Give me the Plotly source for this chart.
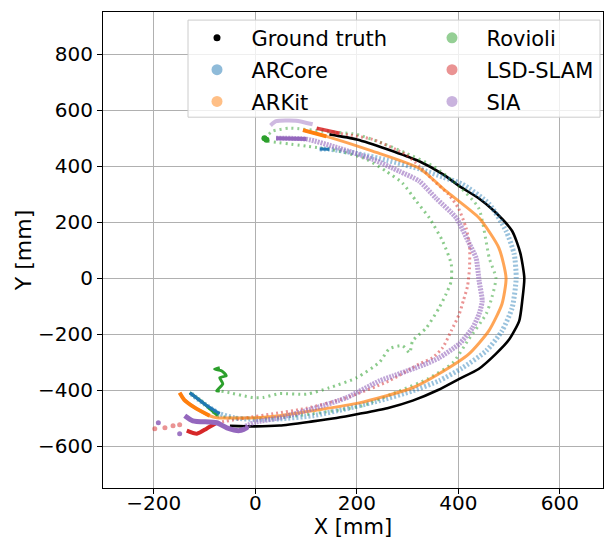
import plotly.graph_objects as go

# ---------------- data (mm) ----------------
GT_X = [146, 200, 260, 323, 370, 402, 440, 470, 506, 522, 530, 526, 520, 500, 474, 440, 402, 360, 310, 260, 205, 160, 113, 48, 0, -50]
GT_Y = [513, 495, 460, 417, 370, 328, 285, 240, 168, 90, 0, -80, -153, -220, -271, -325, -360, -400, -438, -465, -485, -500, -512, -527, -530, -528]

ARCORE_X = [127, 146, 200, 260, 323, 370, 408, 461, 494, 510, 514, 506, 486, 455, 408, 362, 310, 245, 179, 113, 48, 0, -40, -70, -100, -129]
ARCORE_Y = [461, 460, 445, 420, 390, 360, 335, 264, 168, 86, 0, -107, -189, -260, -321, -367, -403, -438, -467, -492, -503, -505, -500, -485, -450, -410]
ARCORE_END_X = [-70, -100, -129]
ARCORE_END_Y = [-485, -450, -410]
ARCORE_START_X = [127, 146]
ARCORE_START_Y = [461, 460]

ARKIT_X = [94, 140, 231, 323, 376, 441, 480, 494, 486, 460, 421, 362, 310, 205, 113, 48, 2, -76, -90, -120, -140, -149]
ARKIT_Y = [528, 506, 453, 392, 310, 214, 107, 0, -93, -189, -271, -342, -392, -446, -474, -492, -499, -499, -492, -462, -435, -410]
ARKIT_START_X = [94, 140]
ARKIT_START_Y = [528, 506]
ARKIT_END_X = [-90, -120, -140, -149]
ARKIT_END_Y = [-492, -462, -435, -410]

ROV_OUT_X = [18, 34, 68, 133, 199, 251, 297, 350, 400, 440, 461, 474, 466, 455, 420, 389, 340, 284, 211, 113, 40, -20, -74, -100, -129]
ROV_OUT_Y = [499, 524, 535, 524, 513, 481, 446, 400, 330, 250, 71, 0, -70, -128, -220, -303, -360, -403, -456, -485, -500, -500, -492, -450, -410]
ROV_OUT_END_X = [-74, -100, -129]
ROV_OUT_END_Y = [-492, -450, -410]
ROV_IN_X = [24, 101, 166, 219, 258, 290, 317, 343, 369, 386, 386, 376, 362, 337, 310, 304, 290, 264, 245, 200, 146, 101, 48, 15, -5, -25, -50, -70]
ROV_IN_Y = [488, 471, 453, 424, 381, 339, 275, 214, 132, 50, -11, -57, -107, -178, -225, -267, -242, -253, -300, -356, -392, -415, -413, -427, -427, -420, -410, -403]
ROV_IN_END_X = [-70, -76, -64, -70, -57, -66, -80, -70]
ROV_IN_END_Y = [-403, -403, -378, -356, -349, -332, -325, -320]
ROV_TOP_X = [18, 22]
ROV_TOP_Y = [499, 494]

LSD_X = [121, 166, 231, 297, 323, 350, 380, 400, 415, 422, 422, 418, 410, 402, 386, 369, 349, 323, 264, 179, 101, 35, -20, -76]
LSD_Y = [535, 517, 495, 440, 400, 350, 300, 250, 180, 120, 36, -30, -80, -128, -189, -249, -285, -307, -367, -428, -465, -485, -500, -517]
LSD_START_X = [121, 166]
LSD_START_Y = [535, 517]
LSD_END_X = [-76, -96, -115, -135]
LSD_END_Y = [-517, -538, -556, -545]
LSD_STRAY_X = [-149, -162, -178, -198]
LSD_STRAY_Y = [-524, -528, -535, -538]

SIA_X = [41, 101, 166, 231, 284, 323, 356, 396, 422, 435, 441, 447, 441, 428, 402, 362, 336, 271, 245, 179, 113, 48, 0, -20]
SIA_Y = [499, 496, 463, 424, 381, 346, 285, 214, 121, 71, -11, -82, -128, -178, -235, -285, -307, -350, -367, -428, -467, -499, -515, -530]
SIA_START_X = [41, 101]
SIA_START_Y = [499, 496]
SIA_TOP_X = [30, 41, 80, 113]
SIA_TOP_Y = [545, 560, 562, 549]
SIA_END_X = [-20, -17, -31, -56, -76, -123, -139]
SIA_END_Y = [-530, -535, -545, -535, -517, -510, -492]
SIA_STRAY_X = [-191, -149]
SIA_STRAY_Y = [-517, -556]

X_TICKS = [-200, 0, 200, 400, 600]
Y_TICKS = [-600, -400, -200, 0, 200, 400, 600, 800]

COLORS = {
    "ARCore": (31, 119, 180),
    "ARKit": (255, 127, 14),
    "Rovioli": (44, 160, 44),
    "LSD-SLAM": (214, 39, 40),
    "SIA": (148, 103, 189),
}

def rgba(c, a):
    return "rgba(%d,%d,%d,%.2f)" % (c[0], c[1], c[2], a)

fig = go.Figure()

def path(x, y, c, a=0.5, width=3, dash="2px,2px"):
    fig.add_trace(go.Scatter(
        x=x, y=y, mode="lines",
        line=dict(color=rgba(c, a), width=width, dash=dash, shape="spline", smoothing=0.6),
        showlegend=False, hoverinfo="skip"))

def dots(x, y, c, a=0.5, size=5):
    fig.add_trace(go.Scatter(
        x=x, y=y, mode="markers",
        marker=dict(color=rgba(c, a), size=size),
        showlegend=False, hoverinfo="skip"))

# ground truth
fig.add_trace(go.Scatter(x=GT_X, y=GT_Y, mode="lines",
                         line=dict(color="black", width=2.6, shape="spline", smoothing=0.6),
                         showlegend=False, hoverinfo="skip"))

# Rovioli
path(ROV_IN_X, ROV_IN_Y, COLORS["Rovioli"], 0.55, 3, "2px,4px")
path(ROV_OUT_X, ROV_OUT_Y, COLORS["Rovioli"], 0.5, 3, "2px,4px")
path(ROV_IN_END_X, ROV_IN_END_Y, COLORS["Rovioli"], 1.0, 3, None)
path(ROV_OUT_END_X, ROV_OUT_END_Y, COLORS["Rovioli"], 1.0, 3, None)
dots(ROV_TOP_X, ROV_TOP_Y, COLORS["Rovioli"], 1.0, 6)

# LSD-SLAM
path(LSD_X, LSD_Y, COLORS["LSD-SLAM"], 0.5, 3, "2px,3px")
dots(LSD_STRAY_X, LSD_STRAY_Y, COLORS["LSD-SLAM"], 0.5, 5)
path(LSD_START_X, LSD_START_Y, COLORS["LSD-SLAM"], 0.85, 3.5, None)
path(LSD_END_X, LSD_END_Y, COLORS["LSD-SLAM"], 1.0, 4, None)

# ARCore
path(ARCORE_X, ARCORE_Y, COLORS["ARCore"], 0.45, 5, "2px,2px")
path(ARCORE_START_X, ARCORE_START_Y, COLORS["ARCore"], 1.0, 3, None)
path(ARCORE_END_X, ARCORE_END_Y, COLORS["ARCore"], 1.0, 3, None)

# ARKit
path(ARKIT_X, ARKIT_Y, COLORS["ARKit"], 0.7, 3, None)
path(ARKIT_START_X, ARKIT_START_Y, COLORS["ARKit"], 1.0, 4, None)
path(ARKIT_END_X, ARKIT_END_Y, COLORS["ARKit"], 1.0, 4, None)

# SIA
path(SIA_X, SIA_Y, COLORS["SIA"], 0.6, 5, "2px,1px")
path(SIA_TOP_X, SIA_TOP_Y, COLORS["SIA"], 0.45, 4, None)
path(SIA_START_X, SIA_START_Y, COLORS["SIA"], 1.0, 4, None)
path(SIA_END_X, SIA_END_Y, COLORS["SIA"], 1.0, 5, None)
dots(SIA_STRAY_X, SIA_STRAY_Y, COLORS["SIA"], 0.9, 5)

# legend-only entries, two columns = two legends
legend_items = [
    ("Ground truth", "black", 7, "legend"),
    ("ARCore", rgba(COLORS["ARCore"], 0.5), 11, "legend"),
    ("ARKit", rgba(COLORS["ARKit"], 0.5), 11, "legend"),
    ("Rovioli", rgba(COLORS["Rovioli"], 0.5), 11, "legend2"),
    ("LSD-SLAM", rgba(COLORS["LSD-SLAM"], 0.5), 11, "legend2"),
    ("SIA", rgba(COLORS["SIA"], 0.5), 11, "legend2"),
]
for name, col, sz, lg in legend_items:
    fig.add_trace(go.Scatter(x=[None], y=[None], mode="markers", name=name,
                             legend=lg, legendgroup=name,
                             marker=dict(color=col, size=sz)))

FONT = "DejaVu Sans"
axis_common = dict(
    showgrid=True, gridcolor="#b0b0b0", gridwidth=1,
    showline=True, linecolor="black", linewidth=1.2, mirror=True,
    ticks="outside", ticklen=5, tickwidth=1.2, tickcolor="black",
    tickfont=dict(family=FONT, size=20, color="black"),
    zeroline=False, automargin=False,
)

legend_common = dict(
    orientation="v", yanchor="top", xanchor="left", y=0.988,
    bgcolor="rgba(0,0,0,0)", borderwidth=0,
    font=dict(family=FONT, size=21, color="black"),
    itemsizing="trace", itemwidth=59,
    traceorder="grouped", tracegroupgap=1.5,
)

fig.update_layout(
    width=604, height=545,
    margin=dict(l=103, r=1, t=12, b=57),
    paper_bgcolor="white", plot_bgcolor="white",
    font=dict(family=FONT, color="black"),
    xaxis=dict(range=[-300, 685], tickvals=X_TICKS, ticklabelstandoff=-8,
               title=dict(text="X [mm]", font=dict(family=FONT, size=21), standoff=1),
               **axis_common),
    yaxis=dict(range=[-750, 950], tickvals=Y_TICKS,
               title=dict(text="Y [mm]", font=dict(family=FONT, size=22), standoff=0),
               **axis_common),
    legend=dict(x=0.159, **legend_common),
    legend2=dict(x=0.629, **legend_common),
    showlegend=True,
    shapes=[dict(type="rect", xref="paper", yref="paper",
                 x0=0.17, x1=0.994, y0=0.779, y1=0.983,
                 fillcolor="rgba(255,255,255,0.8)",
                 line=dict(color="#cccccc", width=1), layer="above")],
)

fig.write_html("out.html", config={"displayModeBar": False},
               post_script="document.body.style.margin='0';")
